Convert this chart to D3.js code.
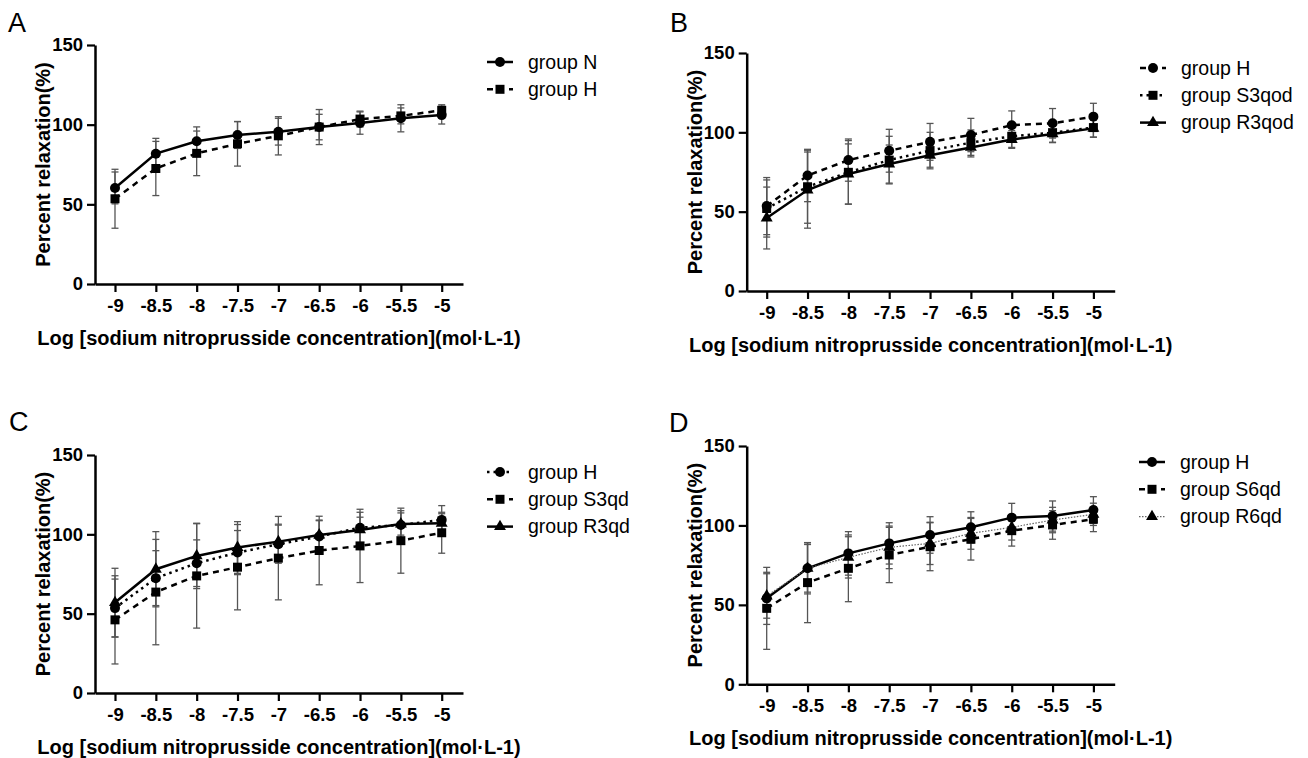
<!DOCTYPE html>
<html>
<head>
<meta charset="utf-8">
<script src="https://cdn.jsdelivr.net/npm/d3@7"></script>
<style>
body { margin: 0; background: #fff; }
svg { display: block; font-family: Arial, "Liberation Sans", sans-serif; }
</style>
</head>
<body>
<svg id="chart" width="1308" height="758"></svg>
<script>
// log concentrations on the x axis, same for all four panels
const logConc = [-9, -8.5, -8, -7.5, -7, -6.5, -6, -5.5, -5];
const yTicks = [0, 50, 100, 150];

// Panel A
const a_groupN    = [60.3, 81.8, 89.6, 93.5, 95.6, 98.5, 101, 104, 106];
const a_groupN_sd = [10, 9.6, 9, 8.4, 8.4, 8, 7, 8.5, 5.6];
const a_groupH    = [53.5, 72.5, 82, 88, 93, 98.5, 103.5, 105.5, 109];
const a_groupH_sd = [18.5, 17, 14, 14, 12, 11, 5, 5, 3.5];

// Panel B
const b_groupH        = [53.5, 72.8, 82.5, 88.4, 94, 98.3, 104.5, 105.7, 109.9];
const b_groupH_sd     = [18, 16.5, 13.3, 13.5, 11.6, 10.5, 9, 9.3, 8.4];
const b_groupS3qod    = [52, 65.7, 74.8, 82.5, 88.5, 93.5, 97.5, 99.8, 103];
const b_groupS3qod_sd = [18, 23, 20, 15, 11.5, 8, 7, 6, 6];
const b_groupR3qod    = [46, 63.6, 73.7, 80, 85.5, 90.5, 95.5, 99, 102.5];
const b_groupR3qod_sd = [19.5, 24, 19, 12, 7.5, 6, 5.6, 5.5, 5.6];

// Panel C
const c_groupH       = [53.5, 72.4, 81.8, 88.5, 93.8, 98.6, 104.2, 105.9, 109.1];
const c_groupH_sd    = [18.3, 17.3, 14.7, 13.9, 12, 10, 9.7, 9, 9];
const c_groupS3qd    = [46.1, 63.6, 73.8, 79.3, 85, 89.8, 92.7, 96, 101];
const c_groupS3qd_sd = [27.8, 33.2, 32.9, 26.9, 26.3, 21.6, 23.1, 20.5, 12.9];
const c_groupR3qd    = [57, 78, 86.4, 91.7, 95.4, 99.6, 102.8, 106.5, 107];
const c_groupR3qd_sd = [21.6, 23.7, 20.6, 16.3, 11, 9.4, 8, 7, 6];

// Panel D
const d_groupH       = [54.1, 73, 82.4, 88.7, 94, 98.8, 104.9, 105.9, 109.7];
const d_groupH_sd    = [16.4, 16.1, 13.7, 13, 11.5, 9.8, 9, 9.5, 8.4];
const d_groupS6qd    = [47.8, 64, 73, 81.4, 86.6, 91.3, 96.7, 100.3, 103.9];
const d_groupS6qd_sd = [25.8, 25.2, 21, 17.4, 15.1, 13.1, 9.7, 9, 7.8];
const d_groupR6qd    = [55.6, 73, 79.9, 86.2, 88.7, 95, 98.8, 103.4, 107];
const d_groupR6qd_sd = [14, 15, 13, 13.4, 13.3, 10, 8, 8, 7];

const xTitle = "Log [sodium nitroprusside concentration](mol\u00b7L-1)";
const yTitle = "Percent relaxation(%)";

// line styles
const SOLID  = { dash: null, width: 2.5, color: "#000" };
const DASHED = { dash: "6,5", width: 2.5, color: "#000" };
const DOTTED = { dash: "2.5,4", width: 2.5, color: "#000" };
const THIN_DOTTED = { dash: "1.5,1.5", width: 1.2, color: "#666" };

const panels = [
    { label: "A", lx: 8, ly: 32, ax: 95, ay: 284, top: 45, legX: 487, legY: 62,
      series: [
        { name: "group N", values: a_groupN, sd: a_groupN_sd, marker: "circle", style: SOLID },
        { name: "group H", values: a_groupH, sd: a_groupH_sd, marker: "square", style: DASHED },
      ] },
    { label: "B", lx: 670, ly: 32, ax: 746.7, ay: 291, top: 53, legX: 1140, legY: 68,
      series: [
        { name: "group H", values: b_groupH, sd: b_groupH_sd, marker: "circle", style: DASHED },
        { name: "group S3qod", values: b_groupS3qod, sd: b_groupS3qod_sd, marker: "square", style: DOTTED },
        { name: "group R3qod", values: b_groupR3qod, sd: b_groupR3qod_sd, marker: "triangle", style: SOLID },
      ] },
    { label: "C", lx: 9, ly: 431, ax: 95, ay: 693, top: 455, legX: 487, legY: 472,
      series: [
        { name: "group H", values: c_groupH, sd: c_groupH_sd, marker: "circle", style: DOTTED },
        { name: "group S3qd", values: c_groupS3qd, sd: c_groupS3qd_sd, marker: "square", style: DASHED },
        { name: "group R3qd", values: c_groupR3qd, sd: c_groupR3qd_sd, marker: "triangle", style: SOLID },
      ] },
    { label: "D", lx: 669, ly: 432, ax: 746.7, ay: 684.3, top: 446, legX: 1139, legY: 462,
      series: [
        { name: "group H", values: d_groupH, sd: d_groupH_sd, marker: "circle", style: SOLID },
        { name: "group S6qd", values: d_groupS6qd, sd: d_groupS6qd_sd, marker: "square", style: DASHED },
        { name: "group R6qd", values: d_groupR6qd, sd: d_groupR6qd_sd, marker: "triangle", style: THIN_DOTTED },
      ] },
];

const svg = d3.select("#chart");

const symbolFor = {
    circle: d3.symbol().type(d3.symbolCircle).size(Math.PI * 25),
    square: d3.symbol().type(d3.symbolSquare).size(81),
    triangle: d3.symbol().type(d3.symbolTriangle).size(62),
};

function applyStyle(sel, style) {
    sel.attr("fill", "none")
        .attr("stroke", style.color)
        .attr("stroke-width", style.width)
        .attr("stroke-dasharray", style.dash);
}

function drawPanel(p) {
    const g = svg.append("g");

    // -9 sits 20px right of the y axis, 0.5 log unit = 40.85px
    const x = d3.scaleLinear()
        .domain([-9 - 20 / 81.7, -5 + 21.3 / 81.7])
        .range([p.ax, p.ax + 368]);
    const y = d3.scaleLinear()
        .domain([0, 150])
        .range([p.ay, p.top]);

    // panel letter
    g.append("text")
        .attr("x", p.lx).attr("y", p.ly)
        .attr("font-size", 27)
        .text(p.label);

    // axes
    const xAxis = g.append("g")
        .attr("transform", "translate(0," + p.ay + ")")
        .call(d3.axisBottom(x).tickValues(logConc).tickFormat(d => String(d))
            .tickSize(8).tickSizeOuter(0).tickPadding(7));
    const yAxis = g.append("g")
        .attr("transform", "translate(" + p.ax + ",0)")
        .call(d3.axisLeft(y).tickValues(yTicks).tickSize(8).tickSizeOuter(0).tickPadding(4));

    [xAxis, yAxis].forEach(ax => {
        ax.select(".domain").attr("stroke", "#000").attr("stroke-width", 2.5);
        ax.selectAll(".tick line").attr("stroke", "#000").attr("stroke-width", 2.2);
        ax.selectAll(".tick text")
            .attr("fill", "#000")
            .attr("font-family", "Arial, 'Liberation Sans', sans-serif")
            .attr("font-size", 18.5)
            .attr("font-weight", "bold");
    });

    // axis titles
    g.append("text")
        .attr("x", (p.ax + p.ax + 368) / 2)
        .attr("y", p.ay + 61)
        .attr("text-anchor", "middle")
        .attr("font-size", 20)
        .attr("font-weight", "bold")
        .text(xTitle);
    g.append("text")
        .attr("transform", "translate(" + (p.ax - 45) + "," + ((p.ay + p.top) / 2) + ") rotate(-90)")
        .attr("text-anchor", "middle")
        .attr("font-size", 20)
        .attr("font-weight", "bold")
        .text(yTitle);

    // error bars
    p.series.forEach(s => {
        const eb = g.append("g")
            .attr("stroke", "#555")
            .attr("stroke-width", 1.3);
        s.values.forEach((v, i) => {
            const cx = x(logConc[i]);
            const lo = y(v - s.sd[i]);
            const hi = y(v + s.sd[i]);
            eb.append("line").attr("x1", cx).attr("x2", cx).attr("y1", lo).attr("y2", hi);
            eb.append("line").attr("x1", cx - 3.5).attr("x2", cx + 3.5).attr("y1", lo).attr("y2", lo);
            eb.append("line").attr("x1", cx - 3.5).attr("x2", cx + 3.5).attr("y1", hi).attr("y2", hi);
        });
    });

    // lines and markers
    const line = d3.line()
        .x((d, i) => x(logConc[i]))
        .y(d => y(d));

    p.series.forEach(s => {
        g.append("path")
            .datum(s.values)
            .attr("d", line)
            .call(applyStyle, s.style);
        g.selectAll(null)
            .data(s.values)
            .enter()
            .append("path")
            .attr("transform", (d, i) => "translate(" + x(logConc[i]) + "," + y(d) + ")")
            .attr("d", symbolFor[s.marker])
            .attr("fill", "#000");
    });

    // legend
    p.series.forEach((s, i) => {
        const ly = p.legY + i * 27.3;
        g.append("line")
            .attr("x1", p.legX).attr("x2", p.legX + 26)
            .attr("y1", ly).attr("y2", ly)
            .call(applyStyle, s.style);
        g.append("path")
            .attr("transform", "translate(" + (p.legX + 13) + "," + ly + ")")
            .attr("d", symbolFor[s.marker])
            .attr("fill", "#000");
        g.append("text")
            .attr("x", p.legX + 41)
            .attr("y", ly)
            .attr("dy", "0.35em")
            .attr("font-size", 19.5)
            .text(s.name);
    });
}

panels.forEach(drawPanel);
</script>
</body>
</html>
